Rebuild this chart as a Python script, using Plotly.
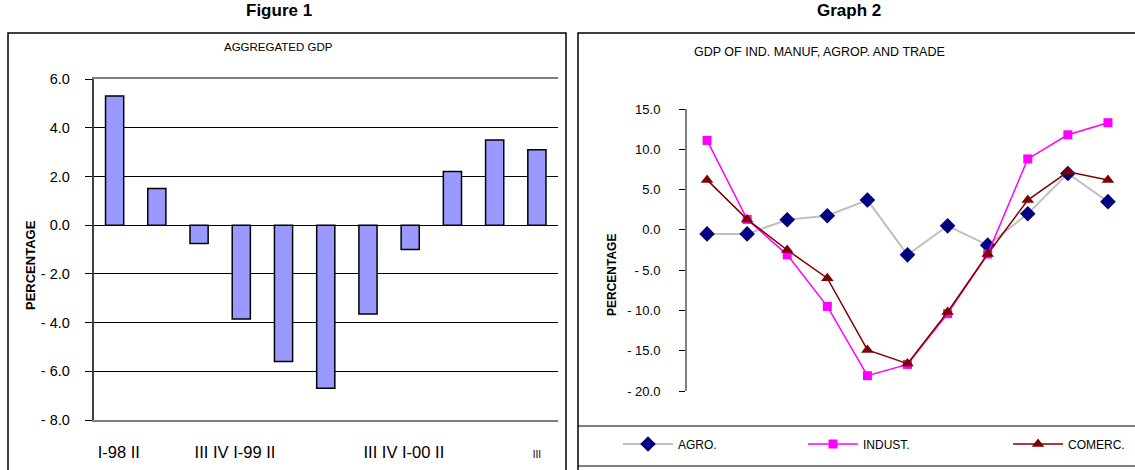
import plotly.graph_objects as go

W, H = 1135, 470


def px(x):
    return x / W


def py(y):
    return 1 - y / H


FONT = "Liberation Sans, Arial, sans-serif"

# Quarterly data
quarters = ["I-98", "II", "III", "IV", "I-99", "II", "III", "IV", "I-00", "II", "III"]
gdp_total = [5.3, 1.5, -0.75, -3.85, -5.6, -6.7, -3.65, -1.0, 2.2, 3.5, 3.1]

agro = [-0.5, -0.5, 1.25, 1.75, 3.7, -3.1, 0.5, -1.9, 2.0, 7.0, 3.5]
indust = [11.1, 1.3, -3.1, -9.5, -18.1, -16.7, -10.4, -3.0, 8.8, 11.8, 13.3]
comerc = [6.2, 1.3, -2.5, -6.0, -14.9, -16.6, -10.2, -3.0, 3.7, 7.2, 6.2]

# Axis ticks
left_ticks = [6, 4, 2, 0, -2, -4, -6, -8]
left_tick_text = ["6.0", "4.0", "2.0", "0.0", "- 2.0", "- 4.0", "- 6.0", "- 8.0"]
right_ticks = [15, 10, 5, 0, -5, -10, -15, -20]
right_tick_text = ["15.0", "10.0", "5.0", "0.0", "- 5.0", "- 10.0", "- 15.0", "- 20.0"]
right_grid = [10, 5, 0, -5, -10, -15]

# Grouped quarter labels under the bar chart
bottom_labels = ["I-98 II", "III IV I-99 II", "III IV I-00 II",
                 "<span style='font-size:10px'>III</span>"]
bottom_label_pos = [0.1, 2.85, 6.85, 10.0]

idx = list(range(len(quarters)))

fig = go.Figure()

# Aggregated GDP bars
fig.add_trace(go.Bar(
    x=idx, y=gdp_total, xaxis="x", yaxis="y",
    marker=dict(color="#9999FF", line=dict(color="#000000", width=1.5)),
    showlegend=False, hovertext=quarters,
))

# Sector lines, each with its own legend box
fig.add_trace(go.Scatter(
    x=idx, y=agro, xaxis="x3", yaxis="y3", name="AGRO.", legend="legend",
    mode="lines+markers",
    line=dict(color="#C0C0C0", width=2),
    marker=dict(symbol="diamond", size=12, color="#000080"),
    hovertext=quarters,
))
fig.add_trace(go.Scatter(
    x=idx, y=indust, xaxis="x3", yaxis="y3", name="INDUST.", legend="legend2",
    mode="lines+markers",
    line=dict(color="#FF00FF", width=1.5),
    marker=dict(symbol="square", size=9, color="#FF00FF"),
    hovertext=quarters,
))
fig.add_trace(go.Scatter(
    x=idx, y=comerc, xaxis="x3", yaxis="y3", name="COMERC.", legend="legend3",
    mode="lines+markers",
    line=dict(color="#800000", width=1.5),
    marker=dict(symbol="triangle-up", size=11, color="#800000"),
    hovertext=quarters,
))

n = len(quarters)
left_dom_x = [px(93.5), px(558)]
left_dom_y = [py(420), py(79)]
right_dom_x = [px(687), px(1128)]
right_dom_y = [py(391), py(109)]


def legend_at(x_pix):
    return dict(
        x=px(x_pix), y=py(444), xanchor="left", yanchor="middle",
        font=dict(size=12, family=FONT), bgcolor="rgba(0,0,0,0)",
        itemwidth=50,
    )


def note(text, x, y, size, angle=0):
    return dict(text=text, x=px(x), y=py(y), xref="paper", yref="paper",
                xanchor="center", yanchor="middle", showarrow=False,
                textangle=angle, font=dict(size=size))


fig.update_layout(
    width=W, height=H,
    margin=dict(l=0, r=0, t=0, b=0, autoexpand=False),
    paper_bgcolor="white", plot_bgcolor="white",
    font=dict(family=FONT, color="#000000"),
    bargap=0.57,
    xaxis=dict(
        domain=left_dom_x, anchor="y", range=[-0.5, n - 0.5], automargin=False,
        tickmode="array", tickvals=bottom_label_pos, ticktext=bottom_labels,
        ticks="", ticklabelstandoff=16, tickfont=dict(size=16.5),
        showgrid=False, zeroline=False,
        showline=True, linecolor="#808080", linewidth=1.5, mirror=True,
    ),
    # axis crossing at zero with category dividers
    xaxis2=dict(
        domain=left_dom_x, anchor="free", overlaying="x", automargin=False,
        position=left_dom_y[0] + (left_dom_y[1] - left_dom_y[0]) * 8 / 14,
        range=[-0.5, n - 0.5],
        tickmode="array", tickvals=[i + 0.5 for i in range(n - 1)],
        ticks="outside", ticklen=5, tickcolor="#000000",
        showticklabels=False, showgrid=False, zeroline=False,
        showline=True, linecolor="#000000", linewidth=1.5,
    ),
    yaxis=dict(
        domain=left_dom_y, anchor="x", range=[-8, 6], automargin=False,
        tickmode="array", tickvals=left_ticks, ticktext=left_tick_text,
        ticks="outside", ticklen=7, tickcolor="#000000",
        ticklabelstandoff=12, tickfont=dict(size=14.5),
        showgrid=True, gridcolor="#000000", gridwidth=1,
        zeroline=False,
        showline=True, linecolor="#404040", linewidth=1.5,
    ),
    xaxis3=dict(
        domain=right_dom_x, anchor="y3", range=[-0.5, n - 0.5], automargin=False,
        showticklabels=False, ticks="", showgrid=False,
        zeroline=False, showline=False,
    ),
    yaxis3=dict(
        domain=right_dom_y, anchor="x3", range=[-20, 15], automargin=False,
        tickmode="array", tickvals=right_ticks, ticktext=right_tick_text,
        ticks="outside", ticklen=6, tickcolor="#000000",
        ticklabelstandoff=16, tickfont=dict(size=13),
        showgrid=False, zeroline=False,
        showline=True, linecolor="#808080", linewidth=2,
    ),
    # gridlines of the sector chart (none at the range ends)
    yaxis4=dict(
        domain=right_dom_y, anchor="x3", overlaying="y3", range=[-20, 15],
        automargin=False,
        tickmode="array", tickvals=right_grid,
        showticklabels=False, ticks="",
        showgrid=True, gridcolor="#000000", gridwidth=1,
        zeroline=False, showline=False,
    ),
    legend=legend_at(618),
    legend2=legend_at(803),
    legend3=legend_at(1008),
    shapes=[
        dict(type="rect", xref="paper", yref="paper",
             x0=px(8), x1=px(566), y0=py(33), y1=py(480),
             line=dict(color="#000000", width=1.5), layer="below"),
        dict(type="rect", xref="paper", yref="paper",
             x0=px(578), x1=px(1140), y0=py(33), y1=py(480),
             line=dict(color="#000000", width=1.5), layer="below"),
        dict(type="line", xref="paper", yref="paper",
             x0=px(578), x1=px(1140), y0=py(426), y1=py(426),
             line=dict(color="#000000", width=1.2)),
        dict(type="line", xref="paper", yref="paper",
             x0=px(578), x1=px(1140), y0=py(466), y1=py(466),
             line=dict(color="#000000", width=1.2)),
    ],
    annotations=[
        note("<b>Figure 1</b>", 279, 11, 17),
        note("<b>Graph 2</b>", 849, 11, 17),
        note("AGGREGATED GDP", 278, 47, 11.5),
        note("GDP OF IND. MANUF, AGROP. AND TRADE", 819, 52, 12.5),
        note("<b>PERCENTAGE</b>", 30, 265, 13, -90),
        note("<b>PERCENTAGE</b>", 612, 275, 12, -90),
    ],
)

fig.write_html("out.html")
